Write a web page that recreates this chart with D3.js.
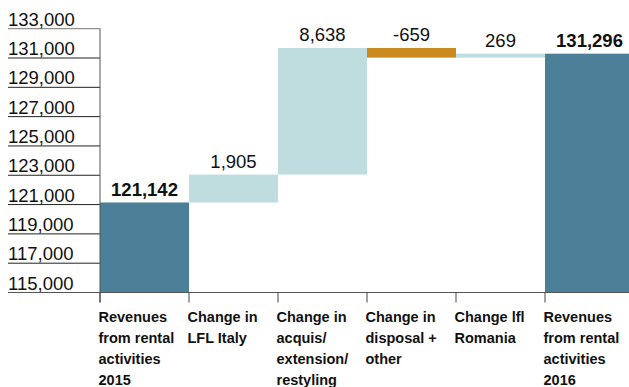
<!DOCTYPE html>
<html>
<head>
<meta charset="utf-8">
<script src="https://cdn.jsdelivr.net/npm/d3@7"></script>
<style>
  html, body { margin: 0; padding: 0; background: #fff; }
  svg { display: block; }
  text { font-family: "Liberation Sans", Arial, sans-serif; fill: #111; }
</style>
</head>
<body>
<svg id="chart" width="629" height="387"></svg>
<script>
const categories = [
  ["Revenues", "from rental", "activities", "2015"],
  ["Change in", "LFL Italy"],
  ["Change in", "acquis/", "extension/", "restyling"],
  ["Change in", "disposal +", "other"],
  ["Change lfl", "Romania"],
  ["Revenues", "from rental", "activities", "2016"]
];
const values = [121142, 1905, 8638, -659, 269, 131296];
const kinds = ["total", "delta", "delta", "delta", "delta", "total"];
const valueLabels = ["121,142", "1,905", "8,638", "-659", "269", "131,296"];
const yTicks = [115000, 117000, 119000, 121000, 123000, 125000, 127000, 129000, 131000, 133000];

const colors = { total: "#4a7f97", up: "#bfdcdf", down: "#cb8a1d" };

const svg = d3.select("#chart");
const mLeft = 100, mRight = 634, mTop = 28.7, mBottom = 292.5;

const x = d3.scaleBand().domain(d3.range(categories.length)).range([mLeft, mRight]).padding(0);
const y = d3.scaleLinear().domain([115000, 133000]).range([mBottom, mTop]);

let running = 0;
const bars = values.map((v, i) => {
  let y0, y1;
  if (kinds[i] === "total") { y0 = 115000; y1 = v; running = v; }
  else { y0 = running; y1 = running + v; running = y1; }
  return { i, v, lo: Math.min(y0, y1), hi: Math.max(y0, y1), kind: kinds[i] };
});

svg.append("g").selectAll("rect").data(bars).join("rect")
  .attr("x", d => x(d.i))
  .attr("width", x.bandwidth())
  .attr("y", d => y(d.hi))
  .attr("height", d => y(d.lo) - y(d.hi))
  .attr("fill", d => d.kind === "total" ? colors.total : (d.v >= 0 ? colors.up : colors.down));

const yg = svg.append("g");
yg.selectAll("line").data(yTicks).join("line")
  .attr("x1", 8).attr("x2", mLeft)
  .attr("y1", d => y(d)).attr("y2", d => y(d))
  .attr("stroke", d => d === 133000 ? "#777" : "#222")
  .attr("stroke-width", 1);
yg.selectAll("text").data(yTicks).join("text")
  .attr("x", 8).attr("y", d => y(d) - 3)
  .attr("font-size", "18.5px")
  .text(d => d3.format(",")(d));

svg.append("line").attr("x1", mLeft).attr("x2", mLeft).attr("y1", y(133000)).attr("y2", mBottom + 10)
  .attr("stroke", "#555").attr("stroke-width", 1);

svg.append("line").attr("x1", 8).attr("x2", 629).attr("y1", mBottom).attr("y2", mBottom)
  .attr("stroke", "#555").attr("stroke-width", 1);

svg.append("g").selectAll("line").data(d3.range(categories.length)).join("line")
  .attr("x1", d => x(d)).attr("x2", d => x(d))
  .attr("y1", mBottom).attr("y2", mBottom + 10)
  .attr("stroke", "#444").attr("stroke-width", 1);

const xl = svg.append("g").selectAll("text").data(categories).join("text")
  .attr("x", (d, i) => x(i) - 1.5)
  .attr("y", 322)
  .attr("font-size", "14.5px")
  .attr("font-weight", "bold")
  .attr("fill", "#1a1a1a");
xl.selectAll("tspan").data(d => d).join("tspan")
  .attr("x", function() { return this.parentNode.getAttribute("x"); })
  .attr("dy", (d, j) => j === 0 ? 0 : 21)
  .text(d => d);

svg.append("g").selectAll("text").data(bars).join("text")
  .attr("x", d => x(d.i) + x.bandwidth() / 2)
  .attr("y", d => y(d.hi) - 6.5)
  .attr("text-anchor", "middle")
  .attr("font-size", "18.5px")
  .attr("font-weight", d => d.kind === "total" ? "bold" : "normal")
  .text((d, i) => valueLabels[i]);
</script>
</body>
</html>
